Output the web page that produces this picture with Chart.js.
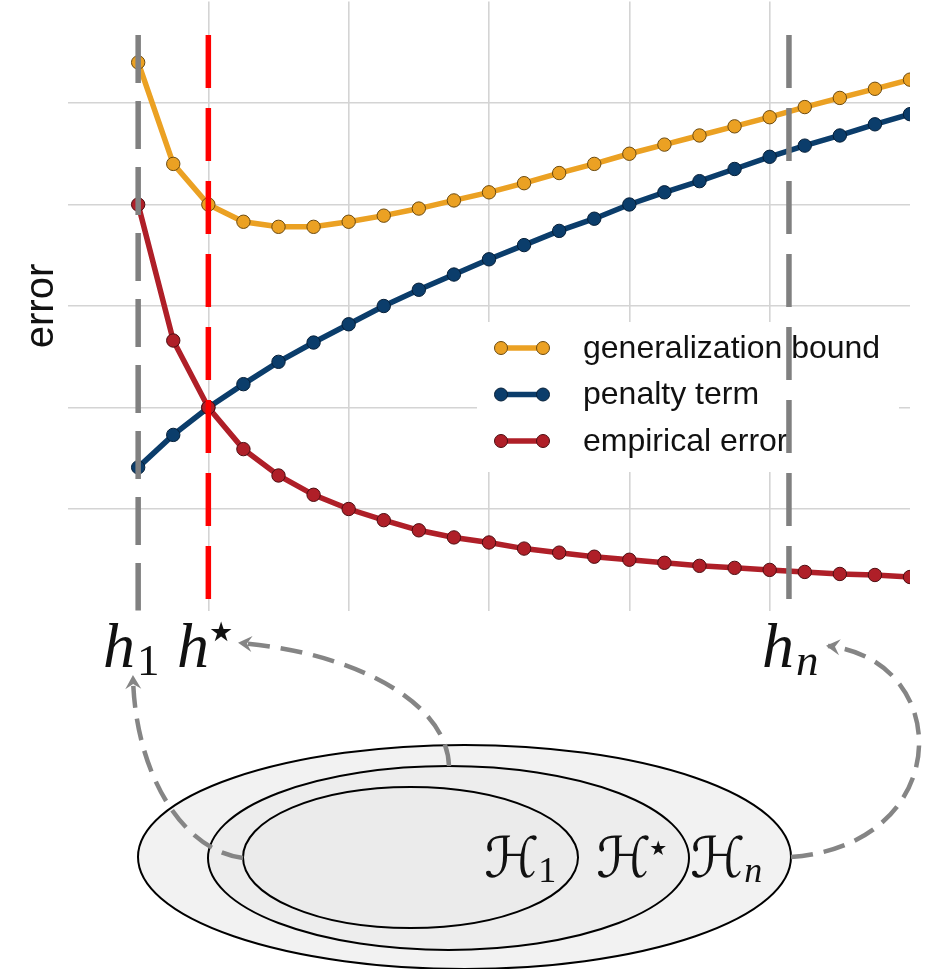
<!DOCTYPE html>
<html>
<head>
<meta charset="utf-8">
<script src="https://cdn.jsdelivr.net/npm/chart.js@4.4.1/dist/chart.umd.min.js"></script>
<style>
  html, body { margin: 0; padding: 0; background: #fff; }
  #wrap { width: 926px; height: 969px; position: relative; }
</style>
</head>
<body>
<div id="wrap"><canvas id="chart"></canvas></div>
<script>
// Model index (hypothesis class complexity)
const models = [0, 1, 2, 3, 4, 5, 6, 7, 8, 9, 10, 11, 12, 13, 14, 15, 16, 17, 18, 19, 20, 21, 22];

// Series values
const generalizationBound = [5.40, 4.40, 4.00, 3.83, 3.78, 3.78, 3.83, 3.89, 3.96, 4.04, 4.12, 4.21,
  4.31, 4.40, 4.50, 4.59, 4.68, 4.77, 4.86, 4.96, 5.05, 5.14, 5.23];
const penaltyTerm = [1.41, 1.73, 2.00, 2.23, 2.45, 2.64, 2.82, 3.00, 3.16, 3.31, 3.46, 3.60,
  3.74, 3.86, 4.00, 4.12, 4.23, 4.35, 4.47, 4.58, 4.68, 4.79, 4.89];
const empiricalError = [4.00, 2.66, 2.00, 1.59, 1.33, 1.14, 1.00, 0.89, 0.79, 0.72, 0.67, 0.61,
  0.57, 0.53, 0.50, 0.47, 0.44, 0.42, 0.40, 0.38, 0.36, 0.35, 0.33];

// Marked hypotheses h_1, h*, h_n (x positions on the model axis)
const markedModels = [0, 2, 18.55];

const ORANGE = "#EBA123", BLUE = "#0B3D6B", RED = "#AF1F28";

function toPoints(values) {
  return models.map((m, i) => ({ x: m, y: values[i] }));
}

// Draw h-style label with subscript / superscript
function mathLabel(ctx, x, y, base, sub, sup, size) {
  ctx.save();
  ctx.fillStyle = "#111";
  ctx.textBaseline = "alphabetic";
  ctx.textAlign = "left";
  ctx.font = "italic " + size + "px 'Liberation Serif', 'DejaVu Serif', serif";
  ctx.fillText(base, x, y);
  const w = ctx.measureText(base).width;
  if (sub) {
    const italicSub = sub === "n";
    ctx.font = (italicSub ? "italic " : "") + Math.round(size * 0.7) + "px 'Liberation Serif', 'DejaVu Serif', serif";
    ctx.fillText(sub, x + w + 2, y + size * 0.12);
  }
  if (sup) {
    ctx.font = "27px 'DejaVu Sans', sans-serif";
    ctx.fillText(sup, x + w, y - size * 0.4);
  }
  ctx.restore();
}

function calH(ctx, x, y, sub, sup) {
  ctx.save();
  ctx.fillStyle = "#111";
  ctx.textBaseline = "alphabetic";
  ctx.font = "56px 'DejaVu Serif', 'DejaVu Sans', serif";
  ctx.fillText("\u210B", x, y);
  const w = ctx.measureText("\u210B").width;
  if (sub) {
    ctx.font = (sub === "n" ? "italic " : "") + "36px 'Liberation Serif', serif";
    ctx.fillText(sub, x + w - 1, y + 5);
  }
  if (sup) {
    ctx.font = "20px 'DejaVu Sans', sans-serif";
    ctx.fillText(sup, x + w - 2, y - 22);
  }
  ctx.restore();
}

function dashedCurve(ctx, p0, p1, p2, p3) {
  ctx.save();
  ctx.strokeStyle = "#858585";
  ctx.lineWidth = 4.5;
  ctx.setLineDash([22, 11]);
  ctx.beginPath();
  ctx.moveTo(p0[0], p0[1]);
  ctx.bezierCurveTo(p1[0], p1[1], p2[0], p2[1], p3[0], p3[1]);
  ctx.stroke();
  // arrow head
  const ang = Math.atan2(p3[1] - p2[1], p3[0] - p2[0]);
  ctx.setLineDash([]);
  ctx.fillStyle = "#858585";
  ctx.translate(p3[0], p3[1]);
  ctx.rotate(ang);
  ctx.beginPath();
  ctx.moveTo(2, 0);
  ctx.lineTo(-12, -8);
  ctx.lineTo(-7, 0);
  ctx.lineTo(-12, 8);
  ctx.closePath();
  ctx.fill();
  ctx.restore();
}

const figurePlugin = {
  id: "figure",
  beforeDatasetsDraw(chart) {
    // legend box (white background covering the grid)
    const ctx = chart.ctx;
    ctx.save();
    ctx.fillStyle = "#fff";
    ctx.fillRect(477, 322, 422, 150);
    const items = [
      ["generalization bound", ORANGE, "#6b4a10"],
      ["penalty term", BLUE, "#061f38"],
      ["empirical error", RED, "#4d0d11"]
    ];
    items.forEach((it, i) => {
      const y = 348 + i * 46.5;
      ctx.strokeStyle = it[1];
      ctx.lineWidth = 5.5;
      ctx.beginPath();
      ctx.moveTo(501, y);
      ctx.lineTo(543, y);
      ctx.stroke();
      [501, 543].forEach(px => {
        ctx.beginPath();
        ctx.arc(px, y, 6.5, 0, Math.PI * 2);
        ctx.fillStyle = it[1];
        ctx.fill();
        ctx.lineWidth = 1;
        ctx.strokeStyle = it[2];
        ctx.stroke();
      });
      ctx.fillStyle = "#111";
      ctx.font = "32px 'Liberation Sans', Arial, sans-serif";
      ctx.textBaseline = "middle";
      ctx.fillText(it[0], 583, y + 1);
    });
    ctx.restore();
  },
  afterDatasetsDraw(chart) {
    const ctx = chart.ctx;
    const xs = chart.scales.x, ys = chart.scales.y;
    const styles = [
      { color: "#808080", dash: [48, 18] },
      { color: "#FF0000", dash: [53, 20] },
      { color: "#808080", dash: [53, 20] }
    ];
    markedModels.forEach((m, i) => {
      const px = xs.getPixelForValue(m);
      ctx.save();
      ctx.strokeStyle = styles[i].color;
      ctx.lineWidth = 5.5;
      ctx.setLineDash(styles[i].dash);
      ctx.beginPath();
      ctx.moveTo(px, ys.getPixelForValue(5.67));
      ctx.lineTo(px, ys.getPixelForValue(0));
      ctx.stroke();
      ctx.restore();
    });
  },
  afterDraw(chart) {
    const ctx = chart.ctx;
    // y axis title
    ctx.save();
    ctx.translate(53, 306);
    ctx.rotate(-Math.PI / 2);
    ctx.fillStyle = "#111";
    ctx.font = "40px 'Liberation Sans', Arial, sans-serif";
    ctx.textAlign = "center";
    ctx.textBaseline = "alphabetic";
    ctx.fillText("error", 0, 0);
    ctx.restore();

    // nested hypothesis sets
    const ell = [
      [464.5, 857, 326.5, 112, "#F2F2F2"],
      [448.5, 858, 240.5, 92, "#EDEDED"],
      [410.5, 857.5, 167.5, 70.5, "#EBEBEB"]
    ];
    ell.forEach(e => {
      ctx.save();
      ctx.beginPath();
      ctx.ellipse(e[0], e[1], e[2], e[3], 0, 0, Math.PI * 2);
      ctx.fillStyle = e[4];
      ctx.fill();
      ctx.lineWidth = 2;
      ctx.strokeStyle = "#000";
      ctx.stroke();
      ctx.restore();
    });

    calH(ctx, 484, 877, "1", null);
    calH(ctx, 596, 877, null, "\u2605");
    calH(ctx, 690, 877, "n", null);

    // h labels under the axis
    mathLabel(ctx, 103, 667, "h", "1", null, 64);
    mathLabel(ctx, 177, 667, "h", null, "\u2605", 64);
    mathLabel(ctx, 762, 667, "h", "n", null, 64);

    // dashed arrows from the sets to the chosen hypotheses
    dashedCurve(ctx, [243, 858], [180, 850], [135, 770], [133, 677]);
    dashedCurve(ctx, [449, 766], [447, 700], [350, 652], [240, 643]);
    dashedCurve(ctx, [791, 857], [955, 845], [955, 660], [828, 646]);
  }
};

const ctx = document.getElementById("chart").getContext("2d");
const chart = new Chart(ctx, {
  type: "line",
  data: {
    datasets: [
      {
        label: "generalization bound",
        data: toPoints(generalizationBound),
        borderColor: ORANGE,
        backgroundColor: ORANGE,
        pointBorderColor: "#6b4a10",
        order: 3
      },
      {
        label: "penalty term",
        data: toPoints(penaltyTerm),
        borderColor: BLUE,
        backgroundColor: BLUE,
        pointBorderColor: "#061f38",
        order: 2
      },
      {
        label: "empirical error",
        data: toPoints(empiricalError),
        borderColor: RED,
        backgroundColor: RED,
        pointBorderColor: "#4d0d11",
        order: 1
      }
    ]
  },
  options: {
    responsive: true,
    maintainAspectRatio: false,
    animation: false,
    layout: { autoPadding: false, padding: { left: 68, top: 1.5, right: 16, bottom: 358.5 } },
    elements: {
      line: { borderWidth: 5.5, tension: 0 },
      point: { radius: 6.7, borderWidth: 1, hoverRadius: 6.7 }
    },
    plugins: {
      legend: { display: false },
      tooltip: { enabled: false }
    },
    scales: {
      x: {
        type: "linear",
        min: -2,
        max: 22,
        afterFit(s) { s.height = 0; },
        ticks: { display: false, stepSize: 4 },
        border: { display: false },
        grid: {
          drawTicks: false,
          lineWidth: 1.6,
          color: c => (c.tick.value === -2 || c.tick.value === 22) ? "rgba(0,0,0,0)" : "#d4d4d4"
        }
      },
      y: {
        min: 0,
        max: 6,
        afterFit(s) { s.width = 0; },
        ticks: { display: false, stepSize: 1 },
        border: { display: false },
        grid: {
          drawTicks: false,
          lineWidth: 1.6,
          color: c => (c.tick.value === 0 || c.tick.value === 6) ? "rgba(0,0,0,0)" : "#d4d4d4"
        }
      }
    }
  },
  plugins: [figurePlugin]
});
</script>
</body>
</html>
